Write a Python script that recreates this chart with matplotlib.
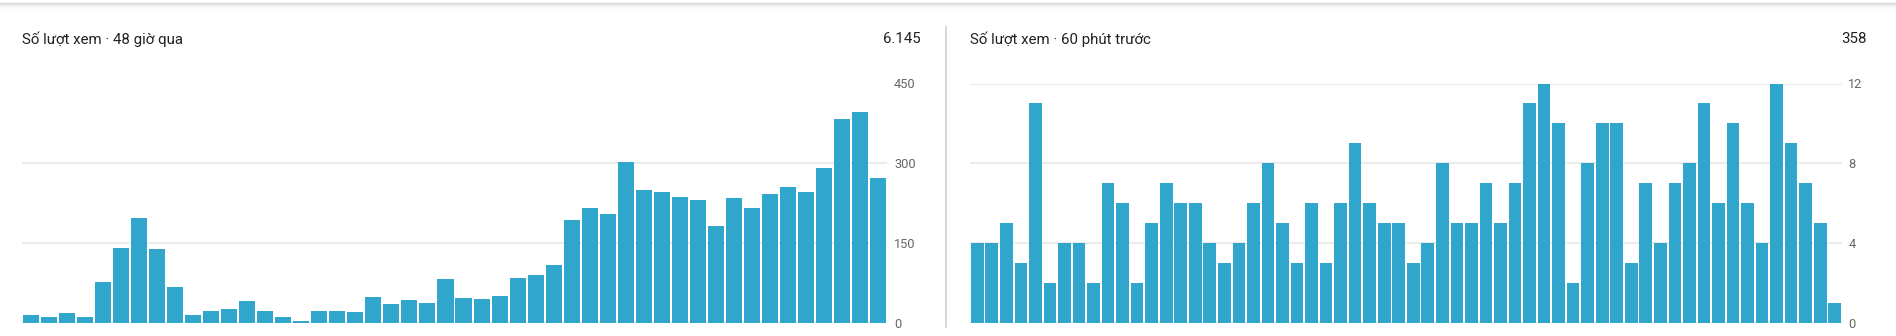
import matplotlib
matplotlib.use("Agg")
import matplotlib.pyplot as plt
from matplotlib.lines import Line2D

plt.rcParams['font.family'] = ['Roboto', 'DejaVu Sans']

# ---- data ----
left_title = "Số lượt xem · 48 giờ qua"
left_total = "6.145"
left_values = [15, 11, 19, 11, 77, 141, 197, 139, 67, 15,
               22, 26, 41, 22, 11, 4, 22, 22, 21, 49,
               36, 43, 37, 82, 47, 45, 51, 84, 90, 109,
               193, 216, 204, 302, 249, 246, 236, 232, 182, 234,
               217, 242, 255, 246, 292, 384, 396, 272]
left_ticks = [0, 150, 300, 450]

right_title = "Số lượt xem · 60 phút trước"
right_total = "358"
right_values = [4, 4, 5, 3, 11, 2, 4, 4, 2, 7,
                6, 2, 5, 7, 6, 6, 4, 3, 4, 6,
                8, 5, 3, 6, 3, 6, 9, 6, 5, 5,
                3, 4, 8, 5, 5, 7, 5, 7, 11, 12,
                10, 2, 8, 10, 10, 3, 7, 4, 7, 8,
                11, 6, 10, 6, 4, 12, 9, 7, 5, 1]
right_ticks = [0, 4, 8, 12]

BAR = "#30a6cc"
GRID = "#e8e8e8"
TXT = "#212121"
TICK = "#666666"

W, H = 1896, 336
fig = plt.figure(figsize=(W / 100, H / 100), dpi=100)
fig.patch.set_facecolor("white")


def px_axes(x0, x1, ytop, ybot):
    return fig.add_axes([x0 / W, (H - ybot) / H, (x1 - x0) / W, (ybot - ytop) / H])


def draw(ax, values, ticks, width, pad):
    n = len(values)
    ax.bar(range(n), values, width=width, color=BAR, edgecolor="none", zorder=2)
    ax.set_xlim(-0.5, n - 0.5)
    ax.set_ylim(0, ticks[-1])
    ax.set_yticks(ticks)
    ax.set_yticklabels([str(t) for t in ticks])
    ax.yaxis.tick_right()
    ax.tick_params(axis="y", length=0, pad=pad, labelsize=9.2, labelcolor=TICK)
    ax.set_xticks([])
    for s in ax.spines.values():
        s.set_visible(False)
    ax.grid(axis="y", color=GRID, linewidth=1.2, zorder=0)
    ax.set_axisbelow(True)
    ax.set_facecolor("none")
    ax.axhline(0, color="#bdbdbd", linewidth=0.8, zorder=3)


axL = px_axes(22, 887, 83.5, 323)
draw(axL, left_values, left_ticks, 0.89, 5)
axR = px_axes(970, 1842, 83.5, 323)
draw(axR, right_values, right_ticks, 0.875, 4.5)

# titles and totals
fs = 10.8
fig.text(22 / W, 1 - 39 / H, left_title, ha="left", va="center", fontsize=fs, color=TXT)
fig.text(921 / W, 1 - 39 / H, left_total, ha="right", va="center", fontsize=fs, color=TXT)
fig.text(970 / W, 1 - 39 / H, right_title, ha="left", va="center", fontsize=fs, color=TXT)
fig.text(1867 / W, 1 - 39 / H, right_total, ha="right", va="center", fontsize=fs, color=TXT)

# vertical divider
fig.add_artist(Line2D([945.5 / W, 945.5 / W], [1 - 27 / H, 1 - 327 / H],
                      color="#d0d0d0", linewidth=1.2, transform=fig.transFigure))

# top shadow
for i, c in enumerate(["#d6d6d6", "#e4e4e4", "#ededed", "#f3f3f3", "#f8f8f8", "#fbfbfb"]):
    y = 1 - (2.5 + i) / H
    fig.add_artist(Line2D([0, 1], [y, y], color=c, linewidth=0.8, transform=fig.transFigure))

fig.savefig("out.png", dpi=100, facecolor="white")
